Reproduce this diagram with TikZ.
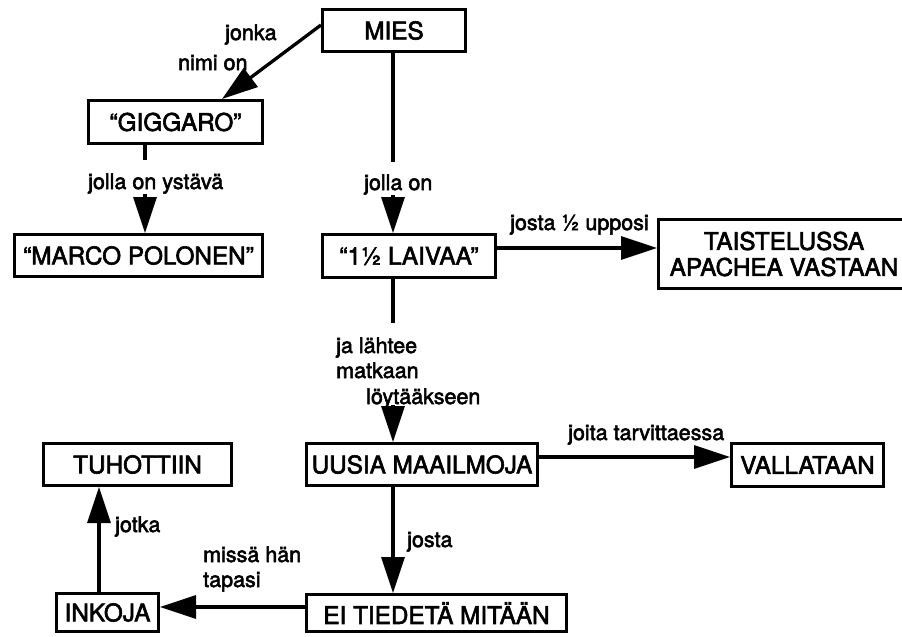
\documentclass[tikz,border=0pt]{standalone}
\usepackage{fontspec}
\setmainfont{TeX Gyre Heros}[FakeBold=2.5]
\usetikzlibrary{arrows.meta,calc}

\newcommand\boxtext{\fontsize{24.3}{26}\selectfont}
\newcommand\labtext{\fontsize{21.5}{26}\selectfont}

\begin{document}
\begin{tikzpicture}[x=1pt,y=-1pt,
  concept/.style={draw, line width=3pt, font=\boxtext, inner sep=0pt, align=center},
  link/.style={line width=3.3pt, -{Triangle[length=36pt,width=23pt]}},
  lab/.style={font=\labtext, inner sep=0pt, anchor=base west},
  cover/.style={lab, fill=white, inner xsep=1pt}
]
\useasboundingbox (0,0) rectangle (902,637);

% concepts
\node[concept, minimum width=143pt, minimum height=42pt] (mies) at (394,30.5) {MIES};
\node[concept, minimum width=174pt, minimum height=43pt] (giggaro) at (175.5,122) {“GIGGARO”};
\node[concept, minimum width=248pt, minimum height=42pt] (marco) at (138.5,255.5) {“MARCO POLONEN”};
\node[concept, minimum width=173pt, minimum height=43pt] (laivaa) at (409,256) {“1½ LAIVAA”};
\node[concept, minimum width=251pt, minimum height=69pt, execute at begin node=\setlength{\baselineskip}{26pt}] (taist) at (784,254) {TAISTELUSSA\\APACHEA VASTAAN};
\node[concept, minimum width=231pt, minimum height=42pt] (uusia) at (422,464.5) {UUSIA MAAILMOJA};
\node[concept, minimum width=152pt, minimum height=43pt] (vallataan) at (807.5,465) {VALLATAAN};
\node[concept, minimum width=188pt, minimum height=42pt] (tuhottiin) at (137.5,464.5) {TUHOTTIIN};
\node[concept, minimum width=102pt, minimum height=38pt] (inkoja) at (107.5,612.5) {INKOJA};
\node[concept, minimum width=260pt, minimum height=37pt] (eitiedeta) at (436.5,613) {EI TIEDETÄ MITÄÄN};

% links
\draw[link] ($(mies.west)+(0,-5.5)$) -- ($(giggaro.north)+(46.5,0)$);

\coordinate (g1) at ($(giggaro.south)+(-30.5,0)$);
\draw[link] (g1) -- (g1 |- marco.north);

\coordinate (m1) at ($(mies.south)+(-1,0)$);
\draw[link] (m1) -- (m1 |- laivaa.north);

\coordinate (l1) at ($(laivaa.east)+(0,-8)$);
\draw[link] (l1) -- (l1 -| taist.west);

\coordinate (l2) at ($(laivaa.south)+(-16,0)$);
\draw[link] (l2) -- (l2 |- uusia.north);

\coordinate (u1) at ($(uusia.east)+(0,-7.5)$);
\draw[link] (u1) -- (u1 -| vallataan.west);

\coordinate (u2) at ($(uusia.south)+(-29,0)$);
\draw[link] (u2) -- (u2 |- eitiedeta.north);

\coordinate (e1) at ($(eitiedeta.west)+(0,-6)$);
\draw[link] (e1) -- (e1 -| inkoja.east);

\coordinate (i1) at ($(inkoja.north)+(-8.5,0)$);
\draw[link] (i1) -- (i1 |- tuhottiin.south);

% link labels
\node[lab] (t1) at (225,40) {jonka};
\node[lab] (t2) at (178,70) {nimi on};
\node[cover, text height=29pt, text depth=5pt] (t3) at (87,189) {jolla on ystävä};
\node[cover, text height=28pt, text depth=5pt] (t4) at (363,190) {jolla on};
\node[lab] (t5) at (510,230) {josta ½ upposi};
\node[cover, text height=30pt, text depth=6pt] (t6) at (335,353) {ja lähtee};
\node[cover, text height=20pt, text depth=6pt] (t7) at (335,378) {matkaan};
\node[cover, text height=20pt, text depth=1pt] (t8) at (365,404) {löytääkseen};
\node[lab] (t9) at (568,440) {joita tarvittaessa};
\node[lab] (t10) at (407,547) {josta};
\node[lab] (t11) at (115,532) {jotka};
\node[lab] (t12) at (203,562) {missä hän};
\node[lab] (t13) at (203,587) {tapasi};
\end{tikzpicture}
\end{document}
